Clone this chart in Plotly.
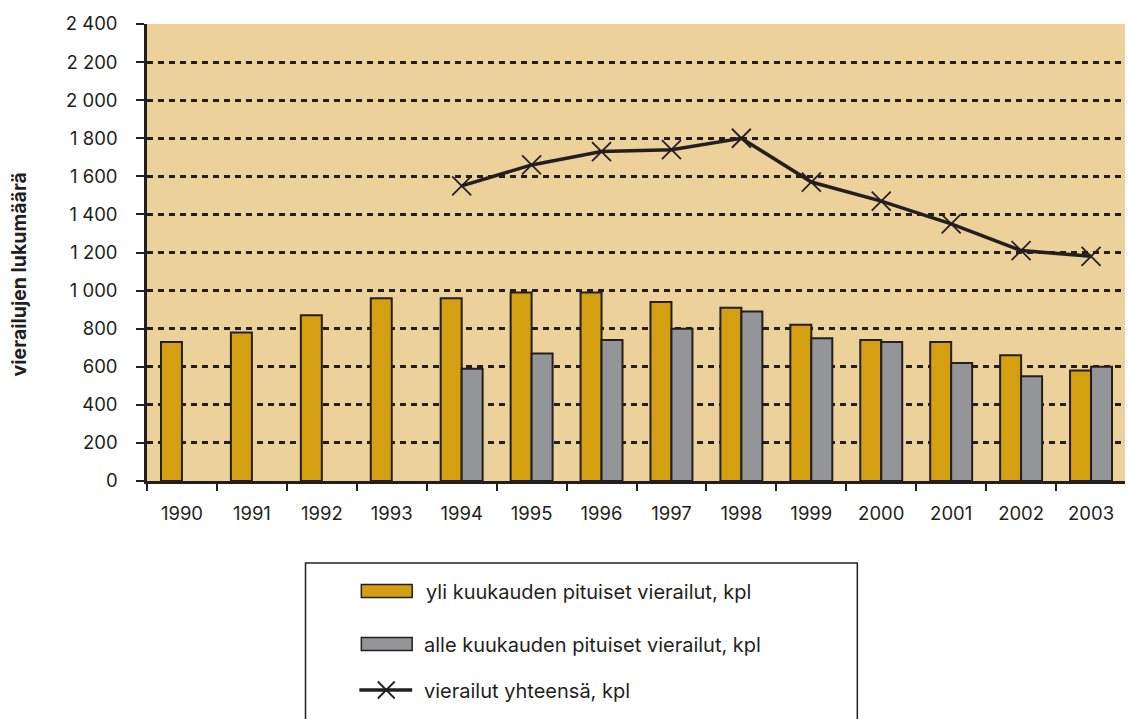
import plotly.graph_objects as go

years = ["1990", "1991", "1992", "1993", "1994", "1995", "1996",
         "1997", "1998", "1999", "2000", "2001", "2002", "2003"]
yli_kuukauden = [730, 780, 870, 960, 960, 990, 990, 940, 910, 820, 740, 730, 660, 580]
alle_kuukauden = [None, None, None, None, 590, 670, 740, 800, 890, 750, 730, 620, 550, 600]
yhteensa = [None, None, None, None, 1550, 1660, 1730, 1740, 1800, 1570, 1470, 1350, 1210, 1180]
y_tick_vals = [0, 200, 400, 600, 800, 1000, 1200, 1400, 1600, 1800, 2000, 2200, 2400]
y_tick_text = ["0", "200", "400", "600", "800", "1 000", "1 200", "1 400",
               "1 600", "1 800", "2 000", "2 200", "2 400"]
series_names = ["yli kuukauden pituiset vierailut, kpl",
                "alle kuukauden pituiset vierailut, kpl",
                "vierailut yhteensä, kpl"]

# page body has an 8px default margin; work in screen pixels and convert
OFF = 8
W, H = 1133 - OFF, 719 - OFF
ML, MR, MT = 147 - OFF, 4, 24 - OFF
PH = 457
MB = H - MT - PH
PW = W - ML - MR

def px(x):
    return (x - OFF - ML) / PW

def py(y):
    return (H - MB - (y - OFF)) / PH

DARK = "#231F20"
YELLOW = "#D4A012"
GRAY = "#939598"
BG = "#EDD19B"
FONT = "Inter, Liberation Sans, Arial, sans-serif"

fig = go.Figure()
fig.add_trace(go.Bar(x=years, y=yli_kuukauden, name=series_names[0],
                     marker=dict(color=YELLOW, line=dict(color=DARK, width=2))))
fig.add_trace(go.Bar(x=years, y=alle_kuukauden, name=series_names[1],
                     marker=dict(color=GRAY, line=dict(color=DARK, width=2))))
fig.add_trace(go.Scatter(x=years, y=yhteensa, name=series_names[2], mode="lines+markers",
                         line=dict(color=DARK, width=3.5),
                         marker=dict(symbol="x-thin", size=19,
                                     line=dict(color=DARK, width=1.8), color=DARK)))

shapes = []
annotations = []
shapes.append(dict(type="rect", xref="paper", yref="paper",
                   x0=px(306), x1=px(859.5), y0=py(563), y1=py(740),
                   line=dict(color=DARK, width=1.5), fillcolor="white", layer="below"))
rows = [591, 644, 690]
for i, col in enumerate([YELLOW, GRAY]):
    shapes.append(dict(type="rect", xref="paper", yref="paper",
                       x0=px(362), x1=px(413), y0=py(rows[i] - 6.5), y1=py(rows[i] + 6.5),
                       line=dict(color=DARK, width=1.5), fillcolor=col))
shapes.append(dict(type="line", xref="paper", yref="paper",
                   x0=px(360), x1=px(413), y0=py(rows[2]), y1=py(rows[2]),
                   line=dict(color=DARK, width=3.5)))
for dx, dy in [(1, 1), (1, -1)]:
    shapes.append(dict(type="line", xref="paper", yref="paper",
                       x0=px(387 - 8.5 * dx), x1=px(387 + 8.5 * dx),
                       y0=py(rows[2] - 8.5 * dy), y1=py(rows[2] + 8.5 * dy),
                       line=dict(color=DARK, width=1.8)))
for i, name in enumerate(series_names):
    annotations.append(dict(text=name, xref="paper", yref="paper",
                            x=px(425 if i == 0 else 423), y=py(rows[i] + 1),
                            xanchor="left", yanchor="middle", showarrow=False,
                            font=dict(family=FONT, size=20, color=DARK)))
annotations.append(dict(text="<b>vierailujen lukumäärä</b>", xref="paper", yref="paper",
                        x=px(19), y=py(274), textangle=-90, showarrow=False,
                        xanchor="center", yanchor="middle",
                        font=dict(family=FONT, size=19.5, color=DARK)))

fig.update_layout(
    width=W, height=H,
    margin=dict(l=ML, r=MR, t=MT, b=MB),
    paper_bgcolor="white", plot_bgcolor=BG,
    barmode="group", bargap=0.4, bargroupgap=0,
    showlegend=False,
    shapes=shapes, annotations=annotations,
    font=dict(family=FONT, color=DARK),
)
fig.update_xaxes(type="category", range=[-0.5, len(years) - 0.5],
                 tickson="boundaries", ticks="outside", ticklen=7,
                 tickwidth=2, tickcolor=DARK, showline=True, linewidth=2.5, linecolor=DARK,
                 showgrid=False, tickfont=dict(family=FONT, size=18.5, color=DARK),
                 ticklabelstandoff=14)
fig.update_yaxes(range=[0, 2400], tickvals=y_tick_vals, ticktext=y_tick_text,
                 ticks="outside", ticklen=8, tickwidth=2, tickcolor=DARK,
                 showline=True, linewidth=2.5, linecolor=DARK, mirror=True,
                 showgrid=True, gridcolor=DARK, gridwidth=3, griddash="6px,5px",
                 zeroline=False, tickfont=dict(family=FONT, size=18.5, color=DARK),
                 ticklabelstandoff=15)

fig.write_html("out.html")
